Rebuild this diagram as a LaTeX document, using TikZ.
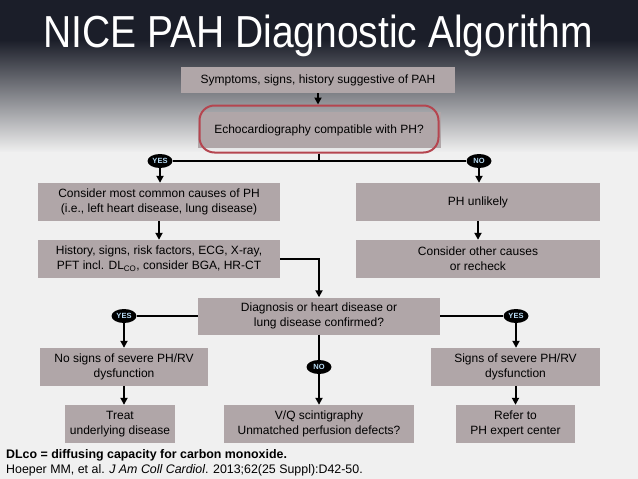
\documentclass[tikz,border=0pt]{standalone}
\usepackage{fontspec}
\setmainfont{Liberation Sans}
\usetikzlibrary{arrows.meta,shapes.geometric}
\definecolor{boxgray}{HTML}{B0A6A8}
\definecolor{bgdark}{HTML}{1B1E29}
\definecolor{bgmid}{HTML}{7C7F87}
\definecolor{bglight}{HTML}{F0F0F0}
\definecolor{echored}{HTML}{B5454F}
\definecolor{tagblue}{HTML}{B8DCF5}

\begin{document}
\begin{tikzpicture}[x=1pt,y=-1pt,font=\fontsize{12}{15}\selectfont,
  box/.style={fill=boxgray,align=center,inner sep=0pt,minimum height=38},
  tag/.style={ellipse,fill=black,inner sep=0pt,minimum width=25,minimum height=14,
    text=tagblue,font=\fontsize{7.5}{8}\selectfont\bfseries},
  arr/.style={line width=2pt,-{Triangle[length=7pt,width=7pt]}},
  con/.style={line width=2pt}]
  \useasboundingbox (0,0) rectangle (638,479);
  % background
  \fill[bgdark] (0,0) rectangle (638,40.5);
  \shade[top color=bgdark,middle color=bgmid,bottom color=bglight] (0,40) rectangle (638,152.5);
  \fill[bglight] (0,152) rectangle (638,479);
  \node[text=white,font=\fontsize{39}{44}\selectfont,yscale=1.15,transform shape] (title) at (318,36) {NICE PAH Diagnostic Algorithm};

  \node[box,minimum width=274,minimum height=26] (sym) at (318,80) {Symptoms, signs, history suggestive of PAH};
  \node[box,minimum width=243,minimum height=36] (echo) at (319,130) {Echocardiography compatible with PH?};
  \node[draw=echored,line width=2pt,rounded corners=15pt,minimum width=239,minimum height=47] (ring) at (319,129) {};
  \node[tag] (yes1) at (160,161) {YES};
  \node[tag] (no1) at (479,161) {NO};

  \node[box,minimum width=242] (cons) at (159,202) {Consider most common causes of PH\\(i.e., left heart disease, lung disease)};
  \node[box,minimum width=244] (unl) at (478,202) {PH unlikely};
  \node[box,minimum width=242] (hist) at (159,259) {History, signs, risk factors, ECG, X-ray,\\PFT incl. DL\textsubscript{CO}, consider BGA, HR-CT};
  \node[box,minimum width=244] (other) at (478,259) {Consider other causes\\or recheck};

  \node[box,minimum width=242,minimum height=37] (diag) at (319,316) {Diagnosis or heart disease or\\lung disease confirmed?};
  \node[tag] (yes2) at (124,316) {YES};
  \node[tag] (yes3) at (516,316) {YES};
  \node[tag] (no2) at (319,367) {NO};

  \node[box,minimum width=168] (nosig) at (124,367) {No signs of severe PH/RV\\dysfunction};
  \node[box,minimum width=169] (sig) at (515.5,367) {Signs of severe PH/RV\\dysfunction};
  \node[box,minimum width=110] (treat) at (120,424) {Treat\\underlying disease};
  \node[box,minimum width=190] (vq) at (319,424) {V/Q scintigraphy\\Unmatched perfusion defects?};
  \node[box,minimum width=119] (refer) at (515.5,424) {Refer to\\PH expert center};

  \node[anchor=base west,inner sep=0pt,font=\fontsize{12.4}{14}\selectfont\bfseries] (note) at (6,458) {DLco = diffusing capacity for carbon monoxide.};
  \node[anchor=base west,inner sep=0pt,font=\fontsize{12.4}{14}\selectfont] (cite) at (6,473) {Hoeper MM, et al. \textit{J Am Coll Cardiol}. 2013;62(25 Suppl):D42-50.};

  % connectors
  \draw[arr] (sym.south) -- (sym.south |- ring.north);
  \draw[con] (ring.south) |- (yes1);
  \draw[con] (ring.south) |- (no1);
  \draw[arr] (yes1) -- (yes1 |- cons.north);
  \draw[arr] (no1) -- (no1 |- unl.north);
  \draw[arr] (cons) -- (hist);
  \draw[arr] (unl) -- (other);
  \draw[arr] (hist.east) -| (diag.north);
  \draw[con] (diag) -- (yes2);
  \draw[con] (diag) -- (yes3);
  \draw[con] (diag) -- (no2);
  \draw[arr] (yes2) -- (yes2 |- nosig.north);
  \draw[arr] (yes3) -- (yes3 |- sig.north);
  \draw[arr] (no2) -- (vq);
  \draw[arr] (nosig.south) -- (nosig.south |- treat.north);
  \draw[arr] (sig) -- (refer);
\end{tikzpicture}
\end{document}
